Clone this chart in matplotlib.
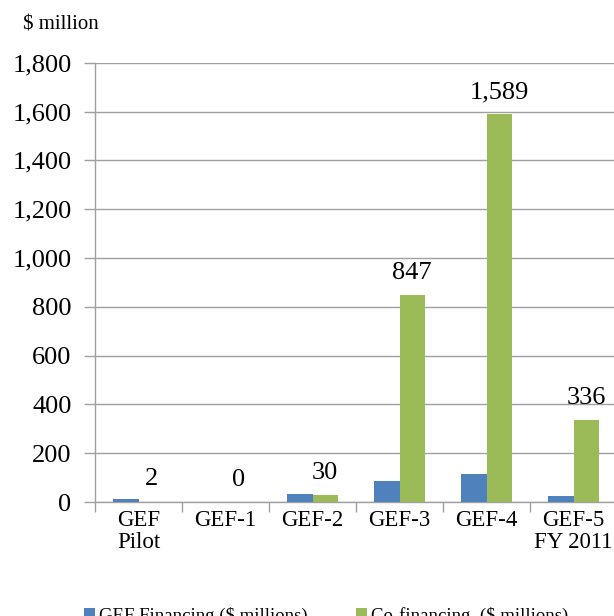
import numpy as np
import matplotlib
matplotlib.use('Agg')
import matplotlib.pyplot as plt
from matplotlib.ticker import FuncFormatter

plt.rcParams['font.family'] = ['Liberation Serif', 'DejaVu Serif']

# data
periods = ['GEF\nPilot', 'GEF-1', 'GEF-2', 'GEF-3', 'GEF-4', 'GEF-5\nFY 2011']
gef_financing = [11, 0, 34, 88, 116, 24]
co_financing = [2, 0, 30, 847, 1589, 336]

blue = '#4f81bd'
green = '#9bbb59'
grey = '#a0a0a0'

fig = plt.figure(figsize=(6.14, 6.16), dpi=100)
ax = fig.add_axes([0.155, 0.185, 0.85, 0.713])

x = np.arange(len(periods))
w = 0.29
ax.bar(x - w / 2, gef_financing, w, color=blue, label='GEF Financing ($ millions)', zorder=3)
bars = ax.bar(x + w / 2, co_financing, w, color=green, label='Co-financing  ($ millions)', zorder=3)

# value labels above the co-financing bars
for b, v in zip(bars, co_financing):
    ax.annotate(f'{v:,}', xy=(b.get_x() + b.get_width() / 2, v),
                xytext=(0, 8), textcoords='offset points',
                ha='center', va='bottom', fontsize=19)

ax.set_ylim(0, 1800)
ax.set_yticks(range(0, 1801, 200))
ax.yaxis.set_major_formatter(FuncFormatter(lambda v, p: f'{int(v):,}'))
ax.set_xlim(-0.5, len(periods) - 0.5)
ax.set_xticks(np.arange(len(periods) + 1) - 0.5, minor=False)
ax.set_xticklabels([])
ax.set_xticks(x, minor=True)
ax.set_xticklabels(periods, minor=True, fontsize=16.5, linespacing=1.05)
ax.tick_params(axis='x', which='minor', length=0, pad=6)
ax.tick_params(axis='x', which='major', length=7, color=grey, width=1)
ax.tick_params(axis='y', length=8, color=grey, width=1, labelsize=19, pad=9)

ax.grid(axis='y', color=grey, linewidth=1, zorder=0)
for s in ['top', 'right']:
    ax.spines[s].set_visible(False)
for s in ['left', 'bottom']:
    ax.spines[s].set_color(grey)
    ax.spines[s].set_linewidth(1)

fig.text(0.038, 0.952, '$ million', fontsize=15)

fig.legend(loc='center', bbox_to_anchor=(0.531, 0.0), ncol=2, frameon=False,
           fontsize=13.5, handlelength=0.6, handleheight=0.6, handletextpad=0.2,
           columnspacing=2.55)

fig.savefig('out.png', dpi=100)
